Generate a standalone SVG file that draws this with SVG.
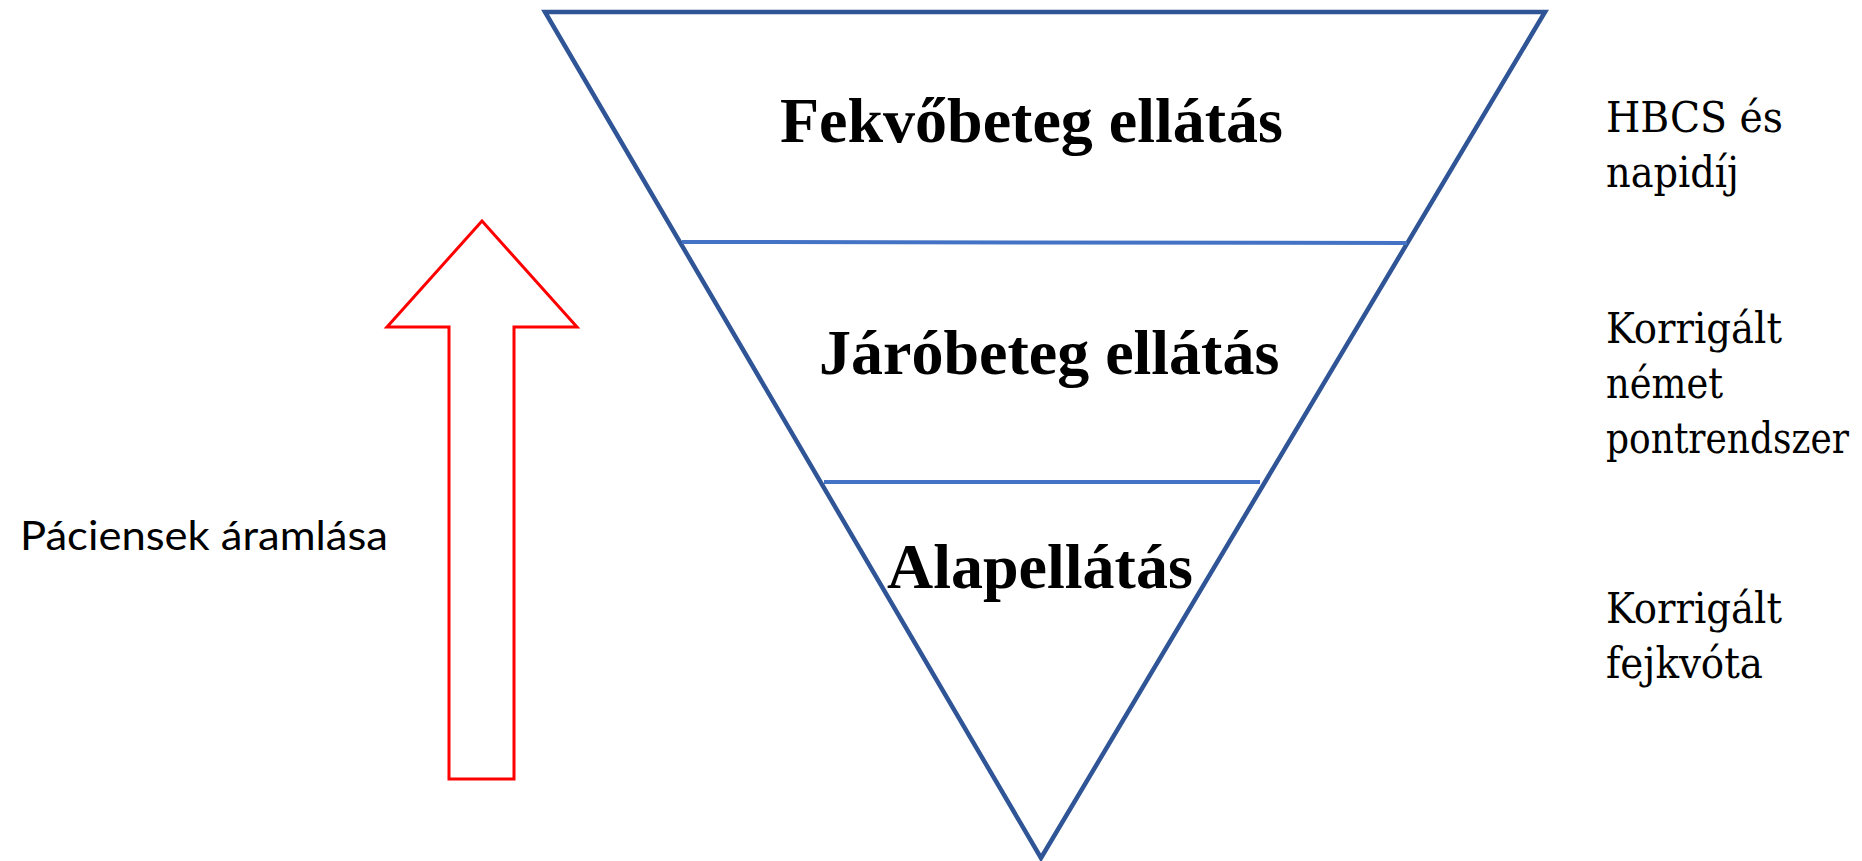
<svg xmlns="http://www.w3.org/2000/svg" width="1862" height="861" viewBox="0 0 1862 861">
<style>
.tri{fill:none;stroke:#2F5597;stroke-width:4.5;stroke-linejoin:miter}
.div{stroke:#4472C4;stroke-width:4;fill:none}
.arrow{fill:#fff;stroke:#FF0000;stroke-width:3}
.title{font-family:"Liberation Serif","Times New Roman",serif;font-weight:bold;font-size:64px;fill:#000}
.side{font-family:"DejaVu Serif",serif;font-size:43px;fill:#000}
.flow{font-family:Lato,"Liberation Sans",sans-serif;font-size:41px;fill:#000}
</style>
<rect width="1862" height="861" fill="#fff"/>
<g id="pyramid">
<polygon class="tri" points="545,12 1545,12 1041,858"/>
</g>
<g id="connectors">
<line class="div" x1="682" y1="242" x2="1407" y2="243"/>
<line class="div" x1="824" y1="482" x2="1260" y2="482"/>
</g>
<g id="level-fekvo"><text class="title" x="780" y="142">Fekvőbeteg ellátás</text></g>
<g id="level-jaro"><text class="title" x="819" y="374">Járóbeteg ellátás</text></g>
<g id="level-alap"><text class="title" x="887" y="588">Alapellátás</text></g>
<g id="flow-arrow">
<polygon class="arrow" points="482,221 577,327 514,327 514,779 449,779 449,327 387,327"/>
</g>
<g id="flow-label"><text class="flow" x="20" y="550" textLength="368" lengthAdjust="spacingAndGlyphs">Páciensek áramlása</text></g>
<g id="side-fekvo"><text class="side" x="1606" y="132" textLength="177" lengthAdjust="spacingAndGlyphs">HBCS és</text><text class="side" x="1606" y="187" textLength="133" lengthAdjust="spacingAndGlyphs">napidíj</text></g>
<g id="side-jaro"><text class="side" x="1606" y="343" textLength="176" lengthAdjust="spacingAndGlyphs">Korrigált</text><text class="side" x="1606" y="398" textLength="117" lengthAdjust="spacingAndGlyphs">német</text><text class="side" x="1606" y="453" textLength="243" lengthAdjust="spacingAndGlyphs">pontrendszer</text></g>
<g id="side-alap"><text class="side" x="1606" y="623" textLength="176" lengthAdjust="spacingAndGlyphs">Korrigált</text><text class="side" x="1606" y="678" textLength="157" lengthAdjust="spacingAndGlyphs">fejkvóta</text></g>
</svg>
